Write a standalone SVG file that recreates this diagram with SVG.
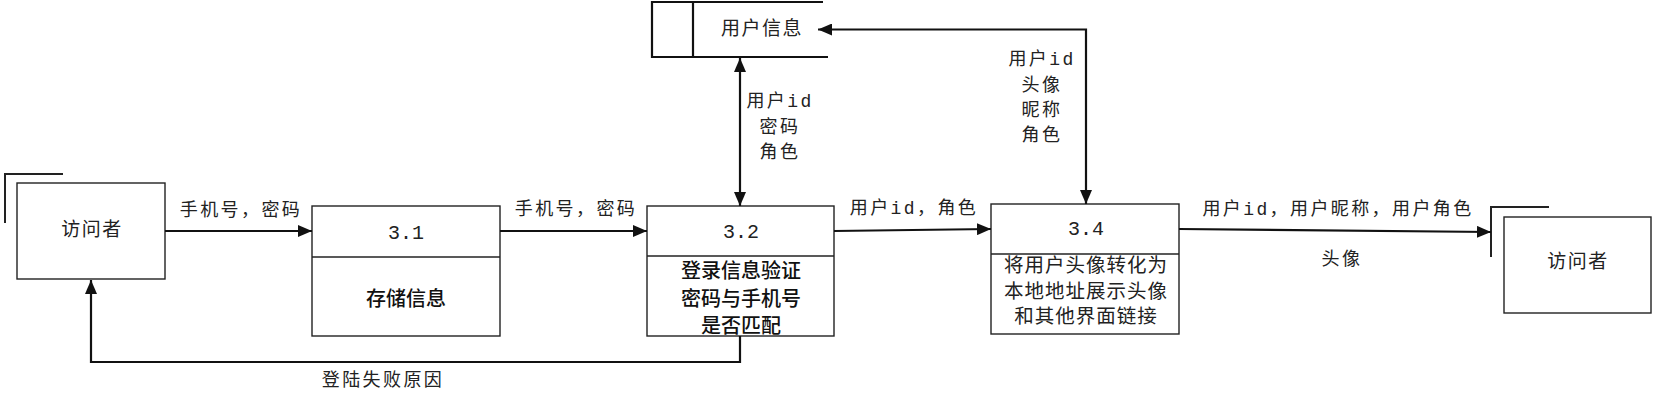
<svg xmlns="http://www.w3.org/2000/svg" width="1657" height="403" viewBox="0 0 1657 403">
<style>
.bg{fill:#fff}
.box{fill:#fff;stroke:#222;stroke-width:1.4}
.ds{fill:none;stroke:#111;stroke-width:2.2}
.br{fill:none;stroke:#222;stroke-width:2}
.con{fill:none;stroke:#111;stroke-width:2.2}
text{font-family:"Liberation Mono","Noto Sans CJK SC",monospace;fill:#222;dominant-baseline:central;text-anchor:middle}
.lb{font-size:18px;letter-spacing:2.4px}
.nm{font-size:19px;letter-spacing:1.5px}
.num{font-size:20px}
.bd{font-family:"Noto Sans CJK SC",sans-serif;font-size:20px;font-weight:500;fill:#111}
.pt{font-size:19.5px;letter-spacing:1px}
</style>
<defs>
<marker id="ah" viewBox="0 0 14 12" markerWidth="14" markerHeight="12" refX="14" refY="6" orient="auto-start-reverse" markerUnits="userSpaceOnUse">
<path d="M0,0 L14,6 L0,12 z" fill="#111"/>
</marker>
</defs>
<rect class="bg" x="0" y="0" width="1657" height="403"/>

<g id="visitor-left">
<rect class="box" x="17" y="183" width="148" height="96"/>
<path class="br" d="M5,223 V174 H63"/>
<text class="nm" x="92" y="231">访问者</text>
</g>

<g id="p31">
<rect class="box" x="312" y="206" width="188" height="130"/>
<line class="box" x1="312" y1="257" x2="500" y2="257"/>
<text class="num" x="406" y="233">3.1</text>
<text class="bd" x="406" y="297">存储信息</text>
</g>

<g id="datastore">
<path class="ds" d="M823,2 H652 V57 H828"/>
<line class="ds" x1="693" y1="2" x2="693" y2="57"/>
<text class="nm" x="762" y="30">用户信息</text>
</g>

<g id="p32">
<rect class="box" x="647" y="206" width="187" height="130"/>
<line class="box" x1="647" y1="256" x2="834" y2="256"/>
<text class="num" x="741" y="232">3.2</text>
<text class="bd" x="741" y="269">登录信息验证</text>
<text class="bd" x="741" y="297">密码与手机号</text>
<text class="bd" x="741" y="324">是否匹配</text>
</g>

<g id="p34">
<rect class="box" x="991" y="204" width="188" height="130"/>
<line class="box" x1="991" y1="254" x2="1179" y2="254"/>
<text class="num" x="1086" y="229">3.4</text>
<text class="pt" x="1086" y="267">将用户头像转化为</text>
<text class="pt" x="1086" y="293">本地地址展示头像</text>
<text class="pt" x="1086" y="318">和其他界面链接</text>
</g>

<g id="visitor-right">
<rect class="box" x="1504" y="217" width="147" height="96"/>
<path class="br" d="M1491,257 V207 H1549"/>
<text class="nm" x="1578" y="263">访问者</text>
</g>

<g id="connectors">
<path class="con" d="M165,231 H312" marker-end="url(#ah)"/>
<path class="con" d="M500,231 H647" marker-end="url(#ah)"/>
<path class="con" d="M740,58 V206" marker-start="url(#ah)" marker-end="url(#ah)"/>
<path class="con" d="M834,231 L991,229" marker-end="url(#ah)"/>
<path class="con" d="M818,29.5 H1086 V204" marker-start="url(#ah)" marker-end="url(#ah)"/>
<path class="con" d="M1179,229 L1491,232" marker-end="url(#ah)"/>
<path class="con" d="M740,336 V362 H91 V280" marker-end="url(#ah)"/>
<text class="lb" x="241" y="211">手机号，密码</text>
<text class="lb" x="576" y="210">手机号，密码</text>
<text class="lb" x="780" y="102">用户id</text>
<text class="lb" x="780" y="128">密码</text>
<text class="lb" x="780" y="153">角色</text>
<text class="lb" x="914" y="209">用户id，角色</text>
<text class="lb" x="1042" y="60">用户id</text>
<text class="lb" x="1042" y="86">头像</text>
<text class="lb" x="1042" y="111">昵称</text>
<text class="lb" x="1042" y="136">角色</text>
<text class="lb" x="1338" y="210">用户id，用户昵称，用户角色</text>
<text class="lb" x="1342" y="260">头像</text>
<text class="lb" x="383" y="381">登陆失败原因</text>
</g>
</svg>
